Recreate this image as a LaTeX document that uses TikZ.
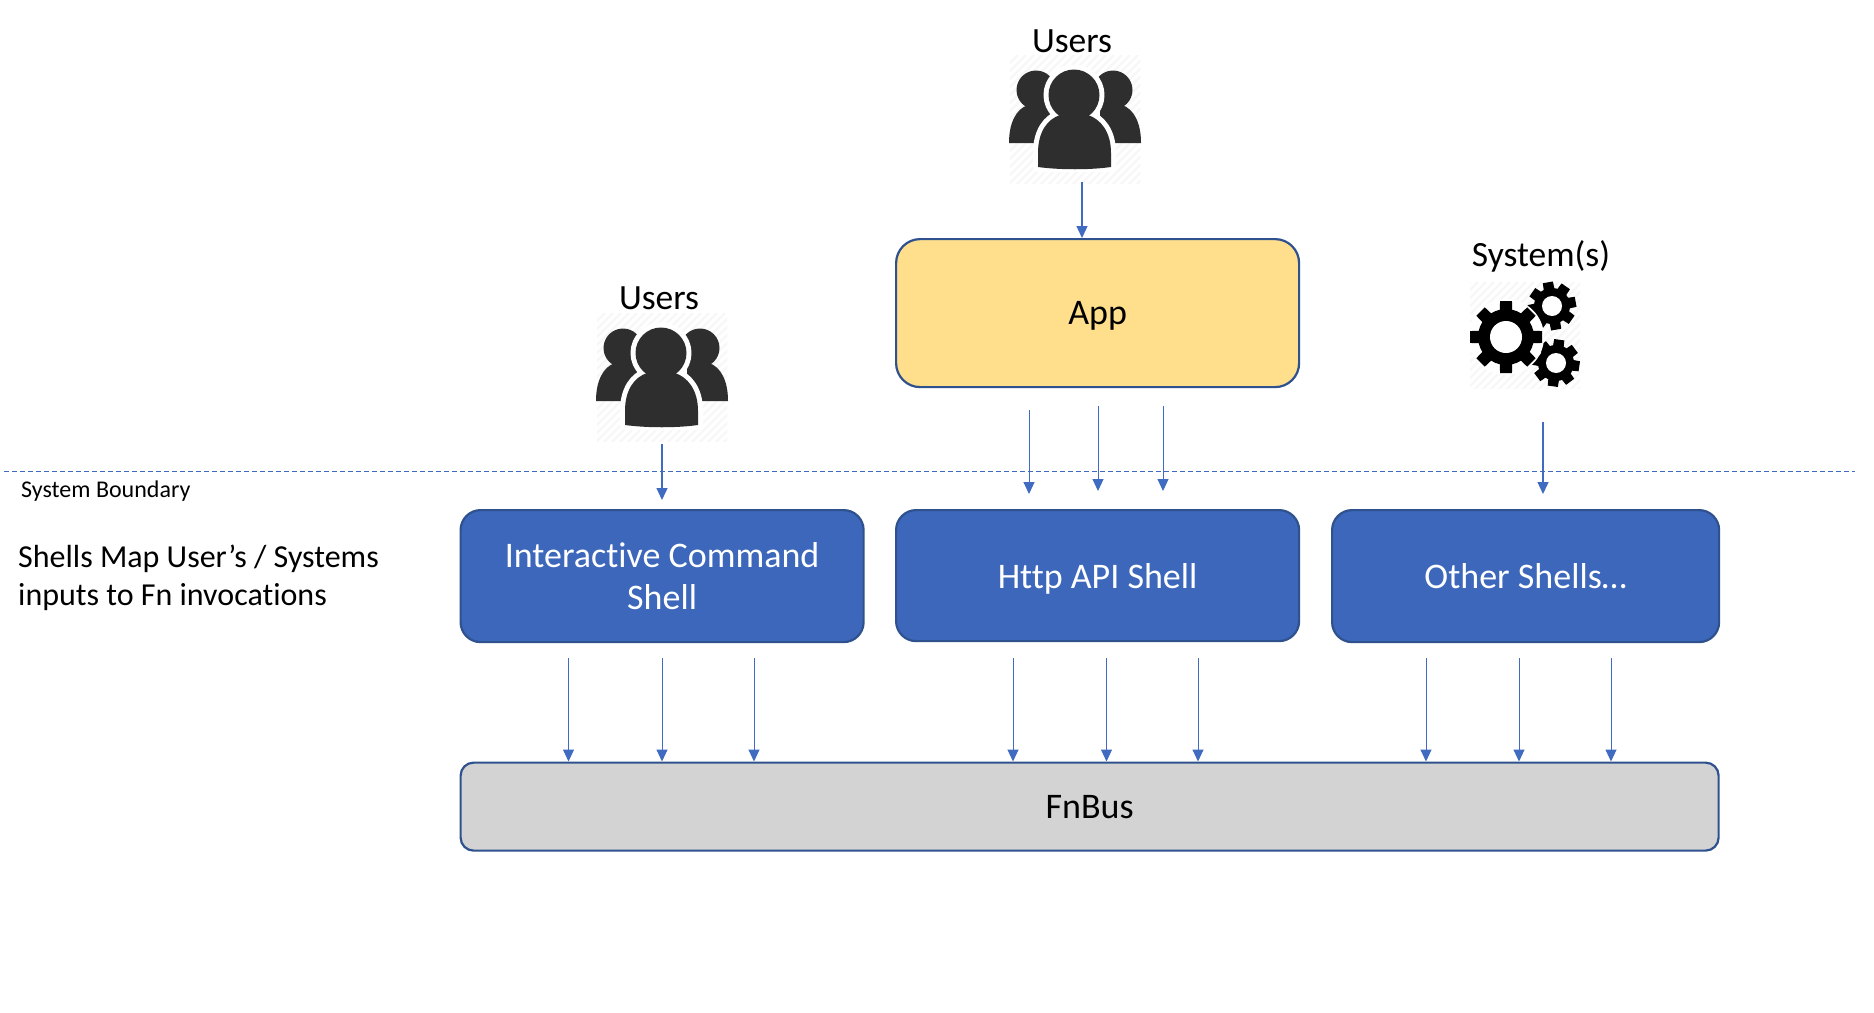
\documentclass[tikz,border=0pt]{standalone}
\usepackage{fontspec}
\setmainfont{Carlito}[RawFeature={-liga}]
\usetikzlibrary{arrows.meta,calc}
\definecolor{boxblue}{HTML}{3C67BA}
\definecolor{boxline}{HTML}{2F528F}
\definecolor{arrblue}{HTML}{3F6BC0}
\definecolor{appfill}{HTML}{FFDF8C}
\definecolor{busfill}{HTML}{D3D3D3}
\definecolor{icondark}{HTML}{2E2E2E}
\definecolor{hatch}{HTML}{F7F7F7}
\tikzset{
  shellbox/.style={draw=boxline,line width=2.2pt,fill=boxblue,rounded corners=20pt,text=white,
    anchor=north west,inner sep=0pt,align=center,font=\fontsize{36}{42}\selectfont},
  appbox/.style={shellbox,fill=appfill,text=black,rounded corners=24pt},
  busbox/.style={shellbox,fill=busfill,text=black,rounded corners=13pt},
  flow/.style={draw=arrblue,line width=1.3pt,-{Triangle[length=12pt,width=11pt]}},
  thinflow/.style={flow,line width=1pt},
  boundary/.style={draw=arrblue,line width=0.9pt,dash pattern=on 5pt off 3pt},
  caption/.style={font=\fontsize{35.5}{38}\selectfont,text=black,inner sep=0pt},
  note/.style={font=\fontsize{32}{38}\selectfont,text=black,inner sep=0pt,anchor=west,align=left},
  small/.style={font=\fontsize{24}{26}\selectfont,text=black,inner sep=0pt,anchor=west}
}
% hatched icon backdrop: #1 = width, #2 = height
\newcommand{\iconback}[2]{%
  \begin{scope}
    \clip (0,0) rectangle (#1,#2);
    \foreach \k in {0,8,...,280}{\draw[hatch,line width=2.2pt] (\k,0) -- (\k-140,140);}
  \end{scope}}
\newcommand{\usersicon}[2]{%
  \begin{scope}[shift={(#1,#2)}]
    \iconback{130}{128}
    \fill[icondark] (26,35) circle (19.5) (103,35) circle (19.5);
    \fill[icondark] (-1,88) .. controls (-1,68) and (6,54) .. (18,50) -- (40,50) -- (40,88) -- cycle;
    \fill[icondark] (131,88) .. controls (131,68) and (124,54) .. (112,50) -- (90,50) -- (90,88) -- cycle;
    \path[fill=white,draw=white,line width=10pt,line join=round]
      (64,40) circle (25.5)
      (28,112) -- (28,98) .. controls (28,76) and (38,64) .. (50,60) -- (78,60) .. controls (90,64) and (101,76) .. (101,98) -- (101,112) -- cycle;
    \fill[icondark] (64,40) circle (25.5);
    \fill[icondark] (28,112) -- (28,98) .. controls (28,76) and (38,64) .. (50,60) -- (78,60)
      .. controls (90,64) and (101,76) .. (101,98) -- (101,112) .. controls (80,115) and (50,115) .. (28,112) -- cycle;
  \end{scope}}
% gear: x, y, outer radius, root radius, hole radius, tooth half-width, start angle
\newcommand{\gearicon}[7]{%
  \begin{scope}[shift={(#1,#2)}]
    \foreach \g in {0,45,...,315}{
      \fill[black,rotate=\g+#7] (-#6,0) -- (-#6*0.85,#3) -- (#6*0.85,#3) -- (#6,0) -- cycle;}
    \fill[black] (0,0) circle (#4);
    \fill[white] (0,0) circle (#5);
  \end{scope}}
\begin{document}
\begin{tikzpicture}[x=1pt,y=-1pt]
\useasboundingbox (0,0) rectangle (1874,1012);
\fill[white] (0,0) rectangle (1874,1012);

% icons
\usersicon{1010}{55}
\usersicon{597}{313}
\begin{scope}[shift={(1470,282)}]\iconback{110}{106}\end{scope}
\gearicon{1552}{306}{24}{18}{10}{6}{10}
\gearicon{1556}{363}{23.5}{18}{10}{6}{-8}
\fill[white] (1506,337) circle (38);
\gearicon{1506}{337}{36}{28}{16}{7}{0}

% captions
\node[caption] (usersTop) at (1072,41) {Users};
\node[caption] (usersLeft) at (659,298) {Users};
\node[caption] (systems) at (1541,256) {System(s)};

% boxes
\node[appbox,text depth=0pt,minimum width=403pt,minimum height=148pt] (app) at (895,238) {App};
\node[shellbox,minimum width=403pt,minimum height=132pt] (ics) at (459.5,509) {Interactive Command\\Shell};
\node[shellbox,text depth=0pt,minimum width=403pt,minimum height=131pt] (http) at (895,509) {Http API Shell};
\node[shellbox,minimum width=387pt,minimum height=132pt] (other) at (1331,509) {Other Shells…};
\node[busbox,minimum width=1258pt,minimum height=88pt] (bus) at (459.5,761.5) {FnBus};

% notes
\node[small] (boundaryLabel) at (21,491.5) {System Boundary};
\node[note] (shellsNote) at (18,578) {Shells Map User’s / Systems\\inputs to Fn invocations};

% boundary
\coordinate (bL) at (4,471);
\coordinate (bR) at (1855,471);
\draw[boundary] (bL) -- (bR);

% top arrows
\coordinate (uT) at (1082,182);
\draw[flow] (uT) -- (uT |- app.north);
\coordinate (uL) at (662,444);
\coordinate (uLe) at (662,500);
\draw[flow] (uL) -- (uLe);
\coordinate (sy) at (1543,422);
\coordinate (sye) at (1543,494);
\draw[flow] (sy) -- (sye);
\coordinate (a1) at (1029,410); \coordinate (a1e) at (1029,494);
\coordinate (a2) at (1098,406); \coordinate (a2e) at (1098,491);
\coordinate (a3) at (1163,406); \coordinate (a3e) at (1163,491);
\draw[thinflow] (a1) -- (a1e);
\draw[thinflow] (a2) -- (a2e);
\draw[thinflow] (a3) -- (a3e);

% shells to bus
\foreach \n/\x in {b1/568.5,b2/662,b3/754,b4/1013,b5/1106.5,b6/1198,b7/1426,b8/1519,b9/1611}{
  \coordinate (\n) at (\x,658);
  \draw[thinflow] (\n) -- (\n |- bus.north);
}
\end{tikzpicture}
\end{document}
